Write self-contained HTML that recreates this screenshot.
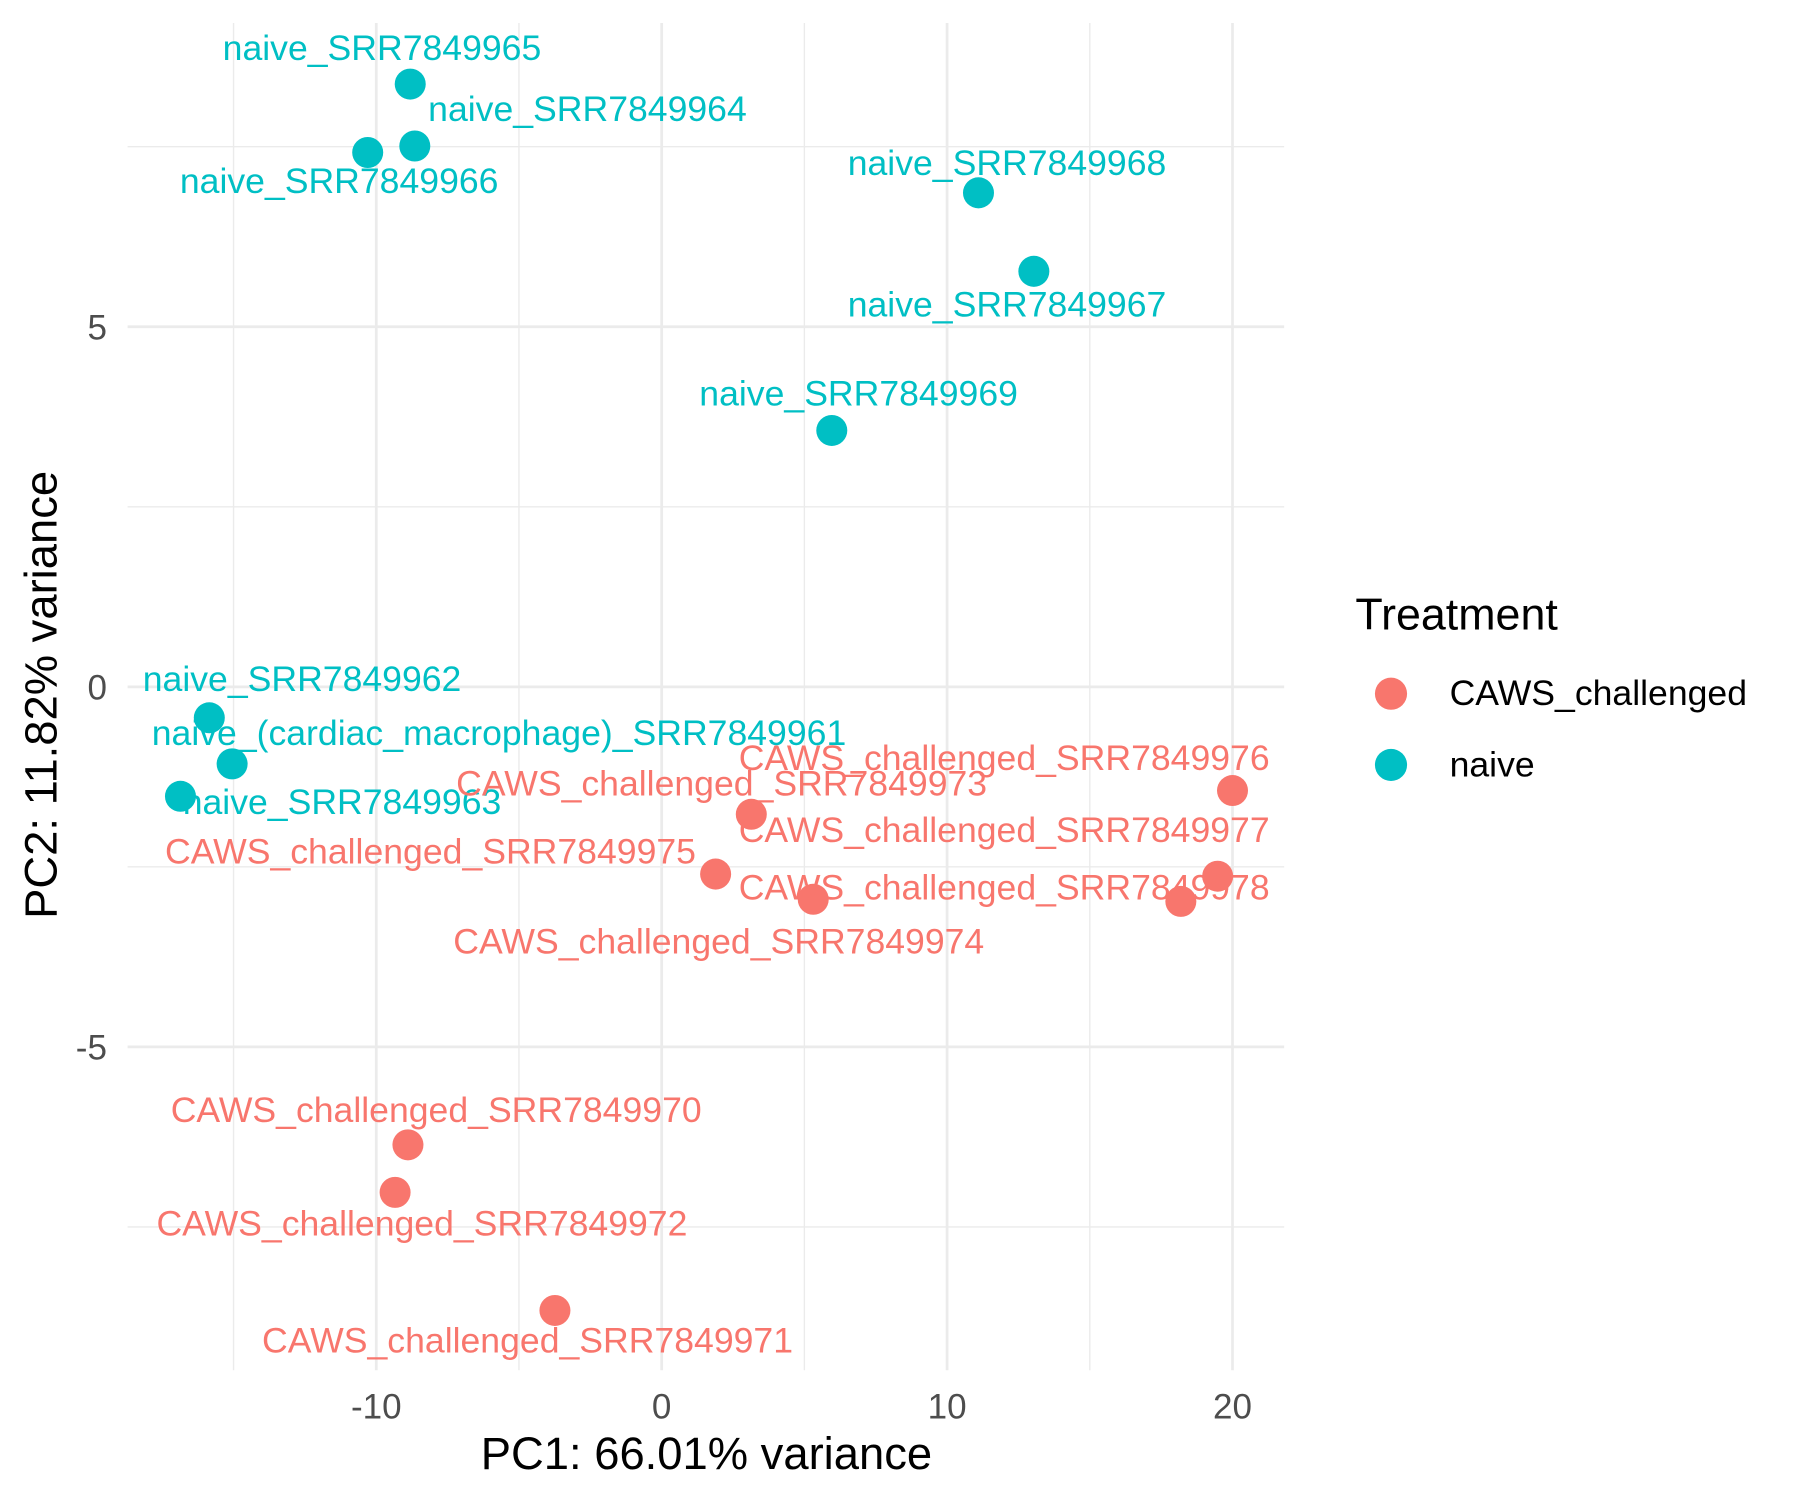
<!DOCTYPE html>
<html><head><meta charset="utf-8"><style>html,body{margin:0;padding:0;background:#fff}svg{display:block}</style></head>
<body>
<svg id="chart" width="1800" height="1500" viewBox="0 0 1567 1306" xmlns="http://www.w3.org/2000/svg" font-family="Liberation Sans, Arial, sans-serif">
<rect width="1567" height="1306" fill="#fff"/>
<g id="grid"></g>
<g id="ticks"></g>
<g id="points"></g>
<g id="labels"></g>
<text x="615" y="1279" font-size="39.5" text-anchor="middle" fill="#000">PC1: 66.01% variance</text>
<text transform="translate(49,605) rotate(-90)" font-size="39.5" text-anchor="middle" fill="#000">PC2: 11.82% variance</text>
<g>
<text x="1180" y="548" font-size="39" fill="#000">Treatment</text>
<circle cx="1211" cy="604" r="14" fill="#F8766D"/>
<text x="1262" y="614" font-size="31" fill="#000">CAWS_challenged</text>
<circle cx="1211" cy="666" r="14" fill="#00BFC4"/>
<text x="1262" y="676" font-size="31" fill="#000">naive</text>
</g>
</svg>
<script>
const sampleNames = ["naive_SRR7849965","naive_SRR7849964","naive_SRR7849966","naive_SRR7849968","naive_SRR7849967","naive_SRR7849969","naive_SRR7849962","naive_(cardiac_macrophage)_SRR7849961","naive_SRR7849963","CAWS_challenged_SRR7849976","CAWS_challenged_SRR7849973","CAWS_challenged_SRR7849975","CAWS_challenged_SRR7849974","CAWS_challenged_SRR7849977","CAWS_challenged_SRR7849978","CAWS_challenged_SRR7849970","CAWS_challenged_SRR7849972","CAWS_challenged_SRR7849971"];
const groups = ["naive","naive","naive","naive","naive","naive","naive","naive","naive","CAWS","CAWS","CAWS","CAWS","CAWS","CAWS","CAWS","CAWS","CAWS"];
const pc1 = [-8.81,-8.65,-10.3,11.1,13.04,5.96,-15.85,-15.05,-16.86,20.0,3.14,1.89,5.31,19.48,18.19,-8.89,-9.34,-3.74];
const pc2 = [8.37,7.51,7.42,6.86,5.77,3.56,-0.43,-1.07,-1.52,-1.44,-1.77,-2.60,-2.95,-2.63,-2.98,-6.36,-7.02,-8.66];
const labelPc1 = [-9.8,-2.6,-11.3,12.1,12.1,6.9,-12.6,-5.7,-11.2,12.0,2.1,-8.1,2.0,12.0,12.0,-7.9,-8.4,-4.7];
const labelPc2 = [8.72,7.87,6.87,7.12,5.16,3.92,-0.04,-0.79,-1.75,-1.14,-1.49,-2.44,-3.69,-2.14,-2.94,-6.03,-7.6,-9.23];
const xTicks = [-10,0,10,20];
const yTicks = [-5,0,5];
const xMinor = [-15,-5,5,15];
const yMinor = [-7.5,-2.5,2.5,7.5];
const X = v => 576 + v*24.85;
const Y = v => 598 - v*62.7;
const NS="http://www.w3.org/2000/svg";
const L=111,R=1118,T=20,B=1193;
function mk(tag,attrs,parent){const e=document.createElementNS(NS,tag);for(const k in attrs)e.setAttribute(k,attrs[k]);parent.appendChild(e);return e;}
const grid=document.getElementById('grid');
xMinor.forEach(v=>{const e=mk('line',{x1:X(v),x2:X(v),y1:T,y2:B,stroke:'#ebebeb','stroke-width':1.2},grid);

});
yMinor.forEach(v=>{const e=mk('line',{x1:L,x2:R,y1:Y(v),y2:Y(v),stroke:'#ebebeb','stroke-width':1.2},grid);

});
xTicks.forEach(v=>{const e=mk('line',{x1:X(v),x2:X(v),y1:T,y2:B,stroke:'#ebebeb','stroke-width':2.4},grid);

});
yTicks.forEach(v=>{const e=mk('line',{x1:L,x2:R,y1:Y(v),y2:Y(v),stroke:'#ebebeb','stroke-width':2.4},grid);

});
const ticks=document.getElementById('ticks');
xTicks.forEach(v=>{const e=mk('text',{x:X(v),y:1235,'font-size':30.5,'text-anchor':'middle',fill:'#4d4d4d'},ticks);e.textContent=v;

});
yTicks.forEach(v=>{const e=mk('text',{x:93,y:Y(v)+11,'font-size':30.5,'text-anchor':'end',fill:'#4d4d4d'},ticks);e.textContent=v;

});
const pts=document.getElementById('points'),lbs=document.getElementById('labels');
pc1.forEach((v,i)=>{const col=groups[i]==='naive'?'#00BFC4':'#F8766D';
const c=mk('circle',{cx:X(v),cy:Y(pc2[i]),r:13.5,fill:col},pts);


const t=mk('text',{x:X(labelPc1[i]),y:Y(labelPc2[i])+1,'font-size':31,'text-anchor':'middle',fill:col},lbs);t.textContent=sampleNames[i];

});
</script>
</body></html>
